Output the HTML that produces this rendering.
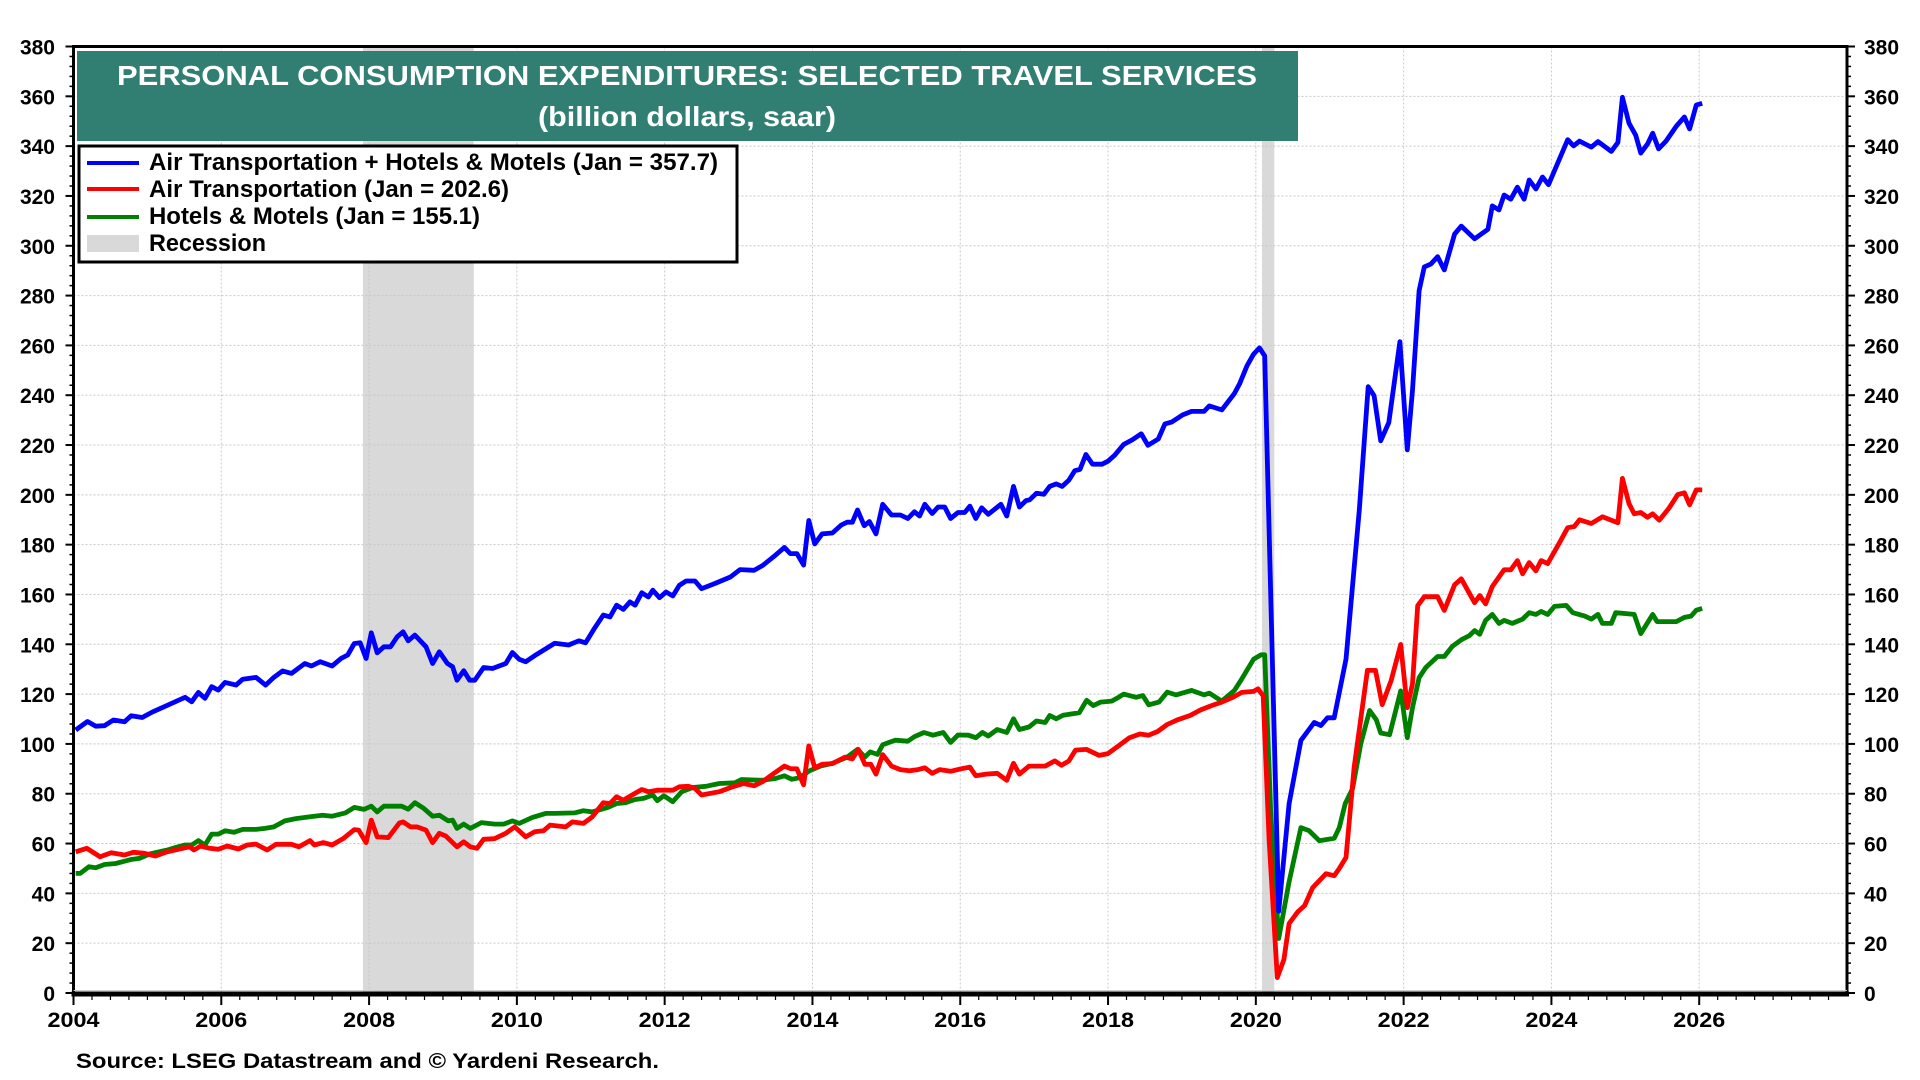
<!DOCTYPE html>
<html><head><meta charset="utf-8"><style>
html,body{margin:0;padding:0;background:#fff;width:1920px;height:1080px;overflow:hidden}
svg{display:block}
text{font-family:"Liberation Sans",sans-serif;font-weight:bold}
</style></head><body>
<svg id="chart" width="1920" height="1080" xmlns="http://www.w3.org/2000/svg">
<g id="bg"></g>
<g id="grid"></g>
<g id="series"></g>
<g id="axes"></g>
<g>
<rect x="77" y="51" width="1221" height="90" fill="#317f73"/>
<text x="687" y="85" fill="#fff" font-size="28" text-anchor="middle" textLength="1140" lengthAdjust="spacingAndGlyphs">PERSONAL CONSUMPTION EXPENDITURES: SELECTED TRAVEL SERVICES</text>
<text x="687" y="126" fill="#fff" font-size="28" text-anchor="middle" textLength="298" lengthAdjust="spacingAndGlyphs">(billion dollars, saar)</text>
</g>
<g>
<rect x="79" y="146" width="658" height="116" fill="#fff" stroke="#000" stroke-width="3"/>
<g><rect x="87" y="161" width="52" height="4" fill="#0000ff"/><text x="149" y="170" font-size="24" textLength="569" lengthAdjust="spacingAndGlyphs">Air Transportation + Hotels &amp; Motels (Jan = 357.7)</text></g>
<g><rect x="87" y="187" width="52" height="4" fill="#ff0000"/><text x="149" y="197" font-size="24" textLength="360" lengthAdjust="spacingAndGlyphs">Air Transportation (Jan = 202.6)</text></g>
<g><rect x="87" y="215" width="52" height="4" fill="#008000"/><text x="149" y="224" font-size="24" textLength="331" lengthAdjust="spacingAndGlyphs">Hotels &amp; Motels (Jan = 155.1)</text></g>
<g><rect x="87" y="235" width="52" height="17" fill="#d9d9d9"/><text x="149" y="251" font-size="24" textLength="117" lengthAdjust="spacingAndGlyphs">Recession</text></g>
</g>
<text x="76" y="1068" font-size="21" textLength="583" lengthAdjust="spacingAndGlyphs">Source: LSEG Datastream and © Yardeni Research.</text>
</svg>
<script>
const recessions=[[2007.917,2009.417],[2020.083,2020.25]];
const yTicks=[0,20,40,60,80,100,120,140,160,180,200,220,240,260,280,300,320,340,360,380];
const xTicks=[2004,2006,2008,2010,2012,2014,2016,2018,2020,2022,2024,2026];
const totalDates=[2004.03,2004.19,2004.3,2004.42,2004.54,2004.69,2004.78,2004.93,2005.06,2005.21,2005.36,2005.51,2005.6,2005.69,2005.78,2005.87,2005.96,2006.05,2006.2,2006.29,2006.47,2006.6,2006.71,2006.83,2006.95,2007.13,2007.22,2007.34,2007.5,2007.62,2007.71,2007.8,2007.88,2007.96,2008.03,2008.11,2008.2,2008.29,2008.38,2008.46,2008.53,2008.62,2008.77,2008.86,2008.95,2009.06,2009.13,2009.19,2009.28,2009.36,2009.43,2009.55,2009.67,2009.85,2009.94,2010.03,2010.12,2010.24,2010.51,2010.7,2010.84,2010.93,2011.05,2011.17,2011.26,2011.35,2011.44,2011.53,2011.6,2011.69,2011.78,2011.84,2011.93,2012.02,2012.11,2012.2,2012.29,2012.41,2012.5,2012.68,2012.89,2013.02,2013.21,2013.33,2013.48,2013.62,2013.7,2013.79,2013.88,2013.95,2014.03,2014.13,2014.27,2014.39,2014.47,2014.54,2014.61,2014.7,2014.77,2014.86,2014.95,2015.07,2015.19,2015.29,2015.38,2015.45,2015.52,2015.62,2015.7,2015.79,2015.87,2015.97,2016.06,2016.13,2016.21,2016.29,2016.38,2016.55,2016.63,2016.72,2016.8,2016.89,2016.94,2017.03,2017.13,2017.21,2017.3,2017.38,2017.47,2017.55,2017.62,2017.7,2017.79,2017.92,2018,2018.09,2018.21,2018.33,2018.45,2018.54,2018.68,2018.77,2018.86,2019.01,2019.13,2019.3,2019.37,2019.54,2019.71,2019.78,2019.88,2019.97,2020.05,2020.12,2020.31,2020.45,2020.61,2020.79,2020.88,2020.97,2021.06,2021.22,2021.4,2021.52,2021.6,2021.69,2021.8,2021.95,2022.05,2022.12,2022.21,2022.28,2022.37,2022.46,2022.55,2022.69,2022.78,2022.96,2023.14,2023.2,2023.29,2023.36,2023.45,2023.54,2023.63,2023.7,2023.79,2023.88,2023.96,2024.22,2024.3,2024.38,2024.54,2024.63,2024.81,2024.9,2024.96,2025.05,2025.14,2025.21,2025.3,2025.37,2025.45,2025.55,2025.69,2025.8,2025.87,2025.96,2026.04];
const totalValues=[105.6,109,107.1,107.3,109.6,108.9,111.3,110.6,112.7,114.7,116.7,118.7,116.9,120.7,118.3,123,121.6,124.7,123.6,126,126.7,123.6,126.7,129.3,128.3,132.3,131.3,133,131.3,134.3,135.7,140.3,140.6,134.3,144.6,136.6,139,139,143,145,141.4,143.7,139,132.3,137,132.3,131,125.6,129.4,125.6,125.6,130.7,130.3,132.3,136.7,134,133,135.4,140.4,139.7,141.4,140.6,146.4,151.7,151,155.7,154,157,155.7,160.7,159,161.7,158.7,161,159.4,163.7,165.4,165.4,162.3,164.4,167,170,169.7,171.7,175.3,178.9,176.4,176.4,171.8,189.7,180.3,184.3,184.7,187.9,189,189,193.9,187.6,189.3,184.3,196.2,191.9,191.9,190.5,193.2,191.5,196.2,192.5,195.1,195.1,190.5,192.9,192.9,195.5,190.5,194.8,192.2,196.2,191.5,203.4,195.1,197.7,198,200.6,200.2,203.4,204.4,203.4,205.9,209.7,210.2,216.2,212.3,212.3,213.5,215.9,220.2,222.1,224.5,219.9,222.4,228.5,229.2,232.1,233.5,233.5,235.7,234.1,240.7,244.6,251.8,256.5,259,255.8,32.8,76,101.4,108.6,107.4,110.5,110.5,134,193.9,243.4,239.8,221.7,229,261.5,218.1,242,281.9,291.5,292.7,295.6,290.3,304.7,307.9,302.8,306.6,316,314.4,320.4,318.7,323.5,318.7,326.4,322.8,327.6,324.5,342.6,340.1,342,339.6,341.8,337.9,341.5,359.6,349.2,344.4,337.2,340.8,345.2,338.9,342,348,351.7,346.9,356.5,357.2];
const airDates=[2004.03,2004.18,2004.36,2004.51,2004.69,2004.81,2004.96,2005.11,2005.27,2005.42,2005.57,2005.63,2005.72,2005.84,2005.96,2006.08,2006.23,2006.35,2006.47,2006.62,2006.74,2006.95,2007.05,2007.2,2007.26,2007.38,2007.5,2007.65,2007.8,2007.86,2007.96,2008.03,2008.11,2008.26,2008.41,2008.46,2008.56,2008.65,2008.77,2008.86,2008.95,2009.04,2009.19,2009.28,2009.37,2009.46,2009.55,2009.7,2009.85,2009.97,2010.12,2010.24,2010.36,2010.45,2010.66,2010.75,2010.9,2011.02,2011.17,2011.26,2011.35,2011.44,2011.56,2011.69,2011.78,2011.9,2012.11,2012.2,2012.32,2012.41,2012.5,2012.74,2012.92,2013.07,2013.21,2013.33,2013.48,2013.62,2013.7,2013.79,2013.88,2013.95,2014.03,2014.13,2014.27,2014.44,2014.54,2014.62,2014.71,2014.79,2014.86,2014.95,2015.07,2015.19,2015.31,2015.43,2015.52,2015.62,2015.72,2015.87,2016.01,2016.13,2016.21,2016.35,2016.5,2016.63,2016.72,2016.8,2016.93,2017.15,2017.28,2017.37,2017.47,2017.56,2017.71,2017.88,2018,2018.14,2018.29,2018.43,2018.55,2018.67,2018.8,2018.94,2019.11,2019.25,2019.4,2019.54,2019.69,2019.81,2019.97,2020.03,2020.1,2020.18,2020.29,2020.38,2020.45,2020.57,2020.66,2020.77,2020.95,2021.06,2021.13,2021.22,2021.33,2021.51,2021.62,2021.71,2021.83,2021.96,2022.05,2022.12,2022.19,2022.28,2022.46,2022.55,2022.69,2022.78,2022.96,2023.03,2023.11,2023.2,2023.36,2023.45,2023.54,2023.61,2023.7,2023.79,2023.86,2023.95,2024.11,2024.22,2024.31,2024.38,2024.54,2024.69,2024.9,2024.96,2025.05,2025.12,2025.21,2025.3,2025.37,2025.46,2025.59,2025.71,2025.8,2025.87,2025.96,2026.04];
const airValues=[56.7,58.1,54.7,56.3,55.4,56.5,56.1,55,56.7,57.7,58.7,57.4,59,58.1,57.7,59,57.8,59.4,59.8,57.4,59.7,59.7,58.7,61.2,59.4,60.4,59.4,62,65.6,65.4,60.4,69.4,62.7,62.4,68.3,68.7,66.7,66.7,65.4,60.4,64.1,63,58.7,60.7,58.7,58.1,61.7,62,64.1,66.7,62.7,64.7,65.1,67.4,66.7,68.7,68.1,70.7,76.4,76.1,78.8,77.4,79.5,81.7,80.8,81.4,81.4,82.8,83,82.1,79.5,80.8,82.8,84.1,83.2,84.9,88.2,91.1,90.1,90,83.6,99.2,90.4,91.8,92.1,94.7,94,97.8,91.8,91.8,87.9,95.7,91.1,89.7,89.2,89.7,90.4,88.2,89.7,89,90,90.7,87.2,87.9,88.2,85.4,92.2,87.9,91.1,91.1,93.2,91.4,93.2,97.5,97.8,95.4,96.1,99.2,102.5,104,103.5,105,107.8,109.7,111.4,113.6,115.4,116.8,118.7,120.7,121.1,122.1,119.3,61.6,6.2,13.4,27.9,32.7,35.1,42.3,47.9,47.1,50,54.4,90.5,129.5,129.5,115.8,125.4,139.9,114.6,124.2,155.5,159.1,159.1,153.6,163.9,166.3,156.7,159.6,156.2,163.2,169.9,169.9,173.6,168.3,172.8,169.5,173.6,172.4,180.8,186.8,187.3,190,188.5,191.2,188.8,206.6,196.5,192.4,192.9,191,192.4,189.8,194.6,200.1,200.8,196,202,202];
const hotelDates=[2004.03,2004.09,2004.21,2004.3,2004.42,2004.57,2004.78,2004.9,2005.03,2005.27,2005.39,2005.51,2005.6,2005.69,2005.78,2005.87,2005.96,2006.05,2006.17,2006.29,2006.47,2006.59,2006.71,2006.86,2007.01,2007.19,2007.37,2007.5,2007.68,2007.8,2007.93,2008.03,2008.11,2008.2,2008.44,2008.53,2008.62,2008.74,2008.86,2008.95,2009.07,2009.13,2009.19,2009.28,2009.37,2009.52,2009.7,2009.82,2009.94,2010.03,2010.21,2010.39,2010.51,2010.78,2010.9,2011.02,2011.23,2011.35,2011.47,2011.6,2011.72,2011.84,2011.9,2011.99,2012.11,2012.23,2012.38,2012.56,2012.74,2012.95,2013.04,2013.31,2013.5,2013.62,2013.72,2013.82,2013.96,2014.11,2014.27,2014.47,2014.61,2014.71,2014.78,2014.88,2014.95,2015.12,2015.29,2015.38,2015.51,2015.63,2015.77,2015.87,2015.97,2016.11,2016.21,2016.3,2016.38,2016.5,2016.63,2016.72,2016.8,2016.93,2017.03,2017.15,2017.21,2017.3,2017.39,2017.61,2017.71,2017.8,2017.9,2018.05,2018.12,2018.21,2018.38,2018.47,2018.55,2018.69,2018.8,2018.92,2019.13,2019.3,2019.37,2019.54,2019.71,2019.81,2019.97,2020.07,2020.12,2020.2,2020.31,2020.45,2020.61,2020.72,2020.86,2021.06,2021.13,2021.21,2021.31,2021.42,2021.54,2021.63,2021.69,2021.81,2021.96,2022.05,2022.12,2022.21,2022.3,2022.46,2022.55,2022.66,2022.78,2022.89,2022.96,2023.03,2023.11,2023.2,2023.29,2023.36,2023.47,2023.61,2023.7,2023.79,2023.86,2023.95,2024.04,2024.2,2024.29,2024.45,2024.54,2024.63,2024.69,2024.81,2024.87,2025.12,2025.21,2025.37,2025.43,2025.69,2025.8,2025.89,2025.96,2026.04];
const hotelValues=[48,48,50.7,50.3,51.6,52,53.6,54.1,55.8,57.4,58.5,59.4,59.4,61.2,59.4,63.8,63.8,65.1,64.5,65.7,65.7,66.1,66.7,69.1,70,70.7,71.4,71,72.3,74.5,73.7,75,72.7,75,75,73.8,76.4,74.1,71,71.4,69.1,69.4,66.1,67.8,66.1,68.4,67.8,67.8,69.1,68.1,70.5,72.1,72.1,72.3,73.2,72.7,74.5,76.1,76.4,77.7,78.2,79.5,77.2,79.2,76.8,80.8,82.5,83,84.1,84.4,85.7,85.4,86.1,87.2,85.8,86.4,89.2,91.1,92.2,94.7,97.8,94.7,96.8,95.8,99.7,101.5,101.1,102.9,104.6,103.5,104.6,100.6,103.6,103.5,102.5,104.6,103.2,105.8,104.6,110.1,105.8,106.8,109.2,108.6,111.4,110.1,111.5,112.5,117.5,115.4,116.8,117.2,118.3,120,118.7,119.4,115.7,116.8,120.8,119.7,121.5,119.7,120.4,117.2,121.5,126.1,134,135.8,135.8,73.6,21.9,44.7,66.4,65.2,61.1,62.1,66.4,76,82.1,100.1,113.4,109.7,104.4,103.7,121.3,102.5,114.6,126.6,130.7,135.1,135.1,139.2,141.8,143.5,145.5,144,149.6,152,148.4,149.6,148.4,150.1,152.7,152,153.2,152,155.2,155.6,152.7,151.3,150.1,152,148.4,148.4,152.7,152,144.3,152,149.1,149.1,150.8,151.3,153.7,154.4];

const L=73.5,R=1847,T=46.5,B=993,X0=2004,X1=2028,Y0=0,Y1=380;
const xs=v=>L+(v-X0)/(X1-X0)*(R-L);
const ys=v=>B-(v-Y0)/(Y1-Y0)*(B-T);
const NS="http://www.w3.org/2000/svg";
function mk(tag,parent,attrs){const e=document.createElementNS(NS,tag);for(const k in attrs)e.setAttribute(k,attrs[k]);parent.appendChild(e);return e;}
const bg=document.getElementById('bg'),grid=document.getElementById('grid'),ser=document.getElementById('series'),ax=document.getElementById('axes');
recessions.forEach(r=>{const e=mk('rect',bg,{x:xs(r[0]),y:T,width:xs(r[1])-xs(r[0]),height:B-T,fill:'#d9d9d9'});

});
yTicks.forEach(v=>{if(v>0&&v<380){const e=mk('line',grid,{x1:L,x2:R,y1:ys(v),y2:ys(v),stroke:'#c8c8c8','stroke-width':1,'stroke-dasharray':'2,2'});

}
const t1=mk('text',ax,{x:55,y:ys(v)+8,'font-size':21,'text-anchor':'end'});t1.textContent=v;


const t2=mk('text',ax,{x:1864,y:ys(v)+8,'font-size':21,'text-anchor':'start'});t2.textContent=v;


mk('line',ax,{x1:L-8,x2:L,y1:ys(v),y2:ys(v),stroke:'#000','stroke-width':2});
mk('line',ax,{x1:R,x2:R+8,y1:ys(v),y2:ys(v),stroke:'#000','stroke-width':2});
if(v<380)for(let m=4;m<20;m+=4){mk('line',ax,{x1:L-4,x2:L,y1:ys(v+m),y2:ys(v+m),stroke:'#000','stroke-width':1.5});mk('line',ax,{x1:R,x2:R+4,y1:ys(v+m),y2:ys(v+m),stroke:'#000','stroke-width':1.5});}
});
xTicks.forEach(v=>{if(v>2004){const e=mk('line',grid,{x1:xs(v),x2:xs(v),y1:T,y2:B,stroke:'#c8c8c8','stroke-width':1,'stroke-dasharray':'2,2'});

}
const t=mk('text',ax,{x:xs(v),y:1027,'font-size':21,'text-anchor':'middle',textLength:52,lengthAdjust:'spacingAndGlyphs'});t.textContent=v;


mk('line',ax,{x1:xs(v),x2:xs(v),y1:B,y2:B+12,stroke:'#000','stroke-width':2});
});
for(let m=0;m<24*4;m++){const v=2004+m/4;mk('line',ax,{x1:xs(v),x2:xs(v),y1:B,y2:B+7,stroke:'#000','stroke-width':1.2});}
function line(d,v,c,name){let p='';for(let i=0;i<d.length;i++)p+=(i?'L':'M')+xs(d[i]).toFixed(1)+','+ys(v[i]).toFixed(1);
const e=mk('path',ser,{d:p,fill:'none',stroke:c,'stroke-width':4.8,'stroke-linejoin':'round'});

}
line(hotelDates,hotelValues,'#008000','hotels-motels-line');
line(airDates,airValues,'#ff0000','air-transportation-line');
line(totalDates,totalValues,'#0000ff','air-plus-hotels-line');
const fr=mk('rect',ax,{x:L,y:T,width:R-L,height:B-T,fill:'none',stroke:'#000','stroke-width':3});


mk('line',ax,{x1:L,x2:R,y1:B-2.5,y2:B-2.5,stroke:'#ccc','stroke-width':1});
mk('line',ax,{x1:L-2,x2:R+2,y1:B+1,y2:B+1,stroke:'#000','stroke-width':5});
</script>
</body></html>
